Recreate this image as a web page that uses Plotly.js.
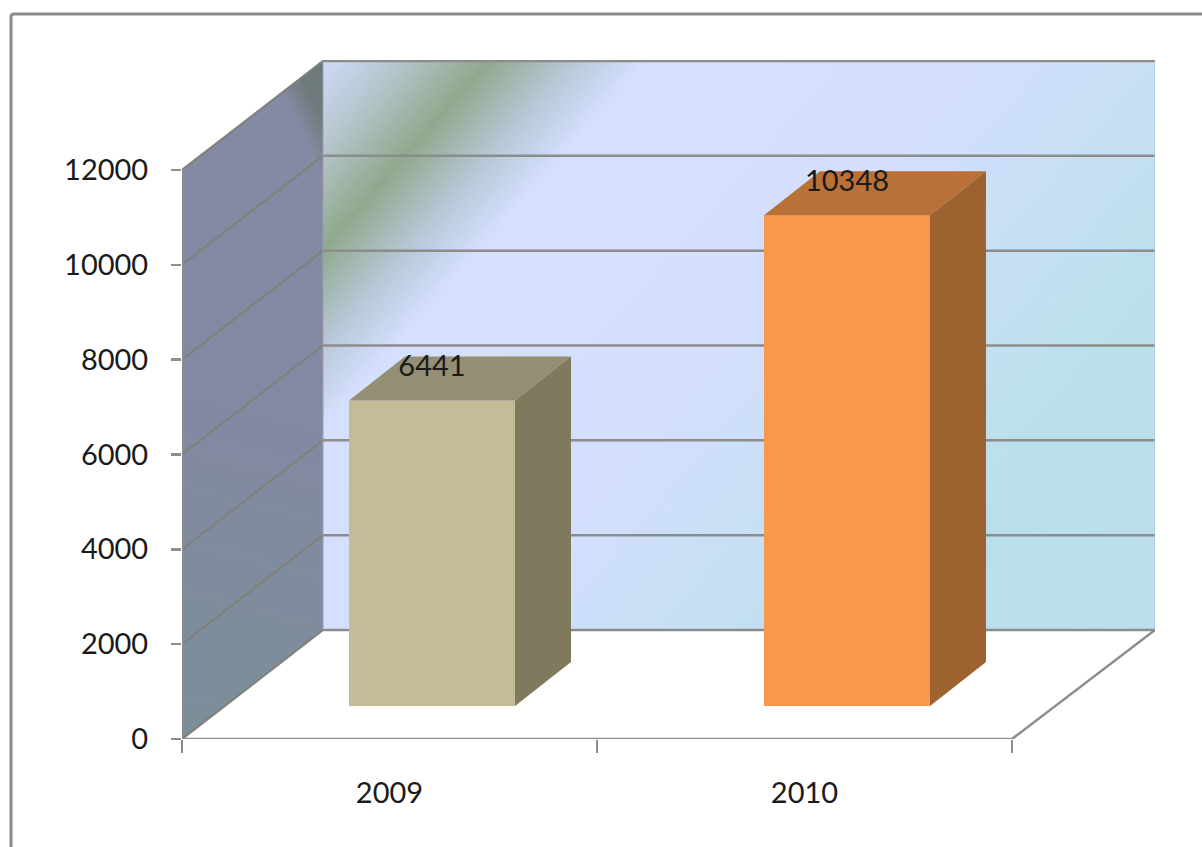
<!DOCTYPE html>
<html>
<head>
<meta charset="utf-8">
<script src="https://cdn.plot.ly/plotly-3.0.1.min.js"></script>
<style>html,body{margin:0;padding:0;background:#fff}</style>
</head>
<body>
<div id="chart" style="width:1202px;height:847px"></div>
<script>
// data
const categories = ['2009', '2010'];
const categoryPos = [0, 1];
const values = [6441, 10348];
const yTicks = [0, 2000, 4000, 6000, 8000, 10000, 12000];
const xBoundaries = [-0.5, 0.5, 1.5];
const frontColors = ['#c4bc96', '#f9974a'];
const topColors = ['#948f74', '#b97137'];
const sideColors = ['#7f7a5e', '#9c6230'];

// page geometry of the pseudo-3D box
const W = 1202, H = 847;
const L = 182, R = 1155, T = 60, B = 739;
const xUnit = 415;            // px per category
const yUnit = 569 / 12000;    // px per value unit
const wallDX = 141 / xUnit, wallDY = 109 / yUnit;
const barDX = 56 / xUnit, barDY = 44 / yUnit;
const barBase = 33 / yUnit, barOffset = -40.5 / xUnit, barWidth = 166 / xUnit;
const labelDY = 31.5 / yUnit;
const GRID = '#8c8c8c';
const WALLGRID = '#80807c';

const wallSvg = `<svg xmlns="http://www.w3.org/2000/svg" width="${R-L}" height="${B-T}" viewBox="${L} ${T} ${R-L} ${B-T}">
<defs>
<linearGradient id="b" gradientUnits="userSpaceOnUse" x1="323" y1="60" x2="1073" y2="720">
<stop offset="0" stop-color="#cfdcfb"/><stop offset="0.06" stop-color="#b5c5cc"/>
<stop offset="0.125" stop-color="#90a98d"/><stop offset="0.19" stop-color="#b8c8d8"/>
<stop offset="0.245" stop-color="#d5e0ff"/><stop offset="0.5" stop-color="#d3dffd"/>
<stop offset="0.8" stop-color="#b9e0ea"/><stop offset="1" stop-color="#bbdfeb"/>
</linearGradient>
<linearGradient id="l" gradientUnits="userSpaceOnUse" x1="182" y1="739" x2="323" y2="200">
<stop offset="0" stop-color="#7a8f98"/><stop offset="0.55" stop-color="#8389a2"/><stop offset="1" stop-color="#858aa4"/>
</linearGradient>
<linearGradient id="d" gradientUnits="userSpaceOnUse" x1="300" y1="130" x2="323" y2="118">
<stop offset="0" stop-color="#66746c" stop-opacity="0"/><stop offset="1" stop-color="#66746c" stop-opacity="0.75"/>
</linearGradient>
</defs>
<rect x="323" y="60" width="832" height="570" fill="url(#b)"/>
<polygon points="182,170 323,60 323,630 182,739" fill="url(#l)"/>
<polygon points="182,170 323,60 323,630 182,739" fill="url(#d)"/>
</svg>`;

const px = x => (x - L) / (R - L);
const py = y => (B - y) / (B - T);
const xMin = xBoundaries[0];
const xFront = xBoundaries[xBoundaries.length - 1];
const xMax = xMin + (R - L) / xUnit;
const yMax = (B - T) / yUnit;
const topTick = yTicks[yTicks.length - 1];

const lineShape = (x0, y0, x1, y1, w, color) => ({
  type: 'line', layer: 'below', x0, y0, x1, y1, xref: 'x', yref: 'y',
  line: {color: color || GRID, width: w || 2.5}
});

const shapes = [];
yTicks.forEach(v => {
  shapes.push(lineShape(xMin + wallDX, v + wallDY, xMax, v + wallDY));
  shapes.push(lineShape(xMin, v, xMin + wallDX, v + wallDY, 2.2, WALLGRID));
});
shapes.push(lineShape(xMin, 0, xMin, topTick));
shapes.push(lineShape(xMin + wallDX, wallDY, xMin + wallDX, topTick + wallDY, 1, '#9a9fb0'));
shapes.push(lineShape(xMax, wallDY, xMax, topTick + wallDY, 1, '#a9c4d8'));
shapes.push(lineShape(xMin, 0, xFront, 0));
shapes.push(lineShape(xFront, 0, xMax, wallDY));
// chart-area frame, open to the right and bottom of the page
shapes.push({
  type: 'path', layer: 'below', xref: 'paper', yref: 'paper',
  path: `M ${px(11)} ${py(847)} L ${px(11)} ${py(17)} Q ${px(11)} ${py(14)} ${px(14)} ${py(14)} L ${px(1202)} ${py(14)}`,
  line: {color: '#8b8b8b', width: 3}
});

const traces = [{
  type: 'bar', x: categoryPos, y: values, base: barBase, offset: barOffset, width: barWidth,
  marker: {color: frontColors, line: {width: 0}}, hoverinfo: 'skip', showlegend: false
}];
values.forEach((v, i) => {
  const x0 = categoryPos[i] + barOffset, x1 = x0 + barWidth, yb = barBase, yt = v + barBase;
  traces.push({
    type: 'scatter', mode: 'lines', fill: 'toself', fillcolor: topColors[i],
    x: [x0, x1, x1 + barDX, x0 + barDX, x0], y: [yt, yt, yt + barDY, yt + barDY, yt],
    line: {width: 0}, hoverinfo: 'skip', showlegend: false
  });
  traces.push({
    type: 'scatter', mode: 'lines', fill: 'toself', fillcolor: sideColors[i],
    x: [x1, x1 + barDX, x1 + barDX, x1, x1], y: [yb, yb + barDY, yt + barDY, yt, yb],
    line: {width: 0}, hoverinfo: 'skip', showlegend: false
  });
});
traces.push({
  type: 'scatter', mode: 'text',
  x: categoryPos.map(c => c + barOffset + barWidth / 2),
  y: values.map(v => v + barBase + labelDY),
  text: values.map(String), textposition: 'middle center',
  textfont: {family: 'Lato, sans-serif', size: 29, color: '#1a1a1a'},
  hoverinfo: 'skip', showlegend: false
});

const layout = {
  width: W, height: H, autosize: false, showlegend: false,
  paper_bgcolor: '#ffffff', plot_bgcolor: 'rgba(0,0,0,0)',
  margin: {l: L, r: W - R, t: T, b: H - B, pad: 0},
  font: {family: 'Lato, sans-serif', size: 29, color: '#1a1a1a'},
  xaxis: {
    range: [xMin, xMax], tickmode: 'array', tickvals: categoryPos, ticktext: categories,
    ticks: '', showgrid: false, zeroline: false, showline: false, ticklabelstandoff: 34,
    minor: {tickmode: 'array', tickvals: xBoundaries, ticks: 'outside', ticklen: 13, tickwidth: 2.5, tickcolor: GRID, showgrid: false},
    fixedrange: true
  },
  yaxis: {
    range: [0, yMax], tickmode: 'array', tickvals: yTicks, ticktext: yTicks.map(String),
    ticks: 'outside', ticklen: 10, tickwidth: 2.5, tickcolor: GRID,
    showgrid: false, zeroline: false, showline: false, ticklabelstandoff: 17, fixedrange: true
  },
  shapes,
  images: [{
    source: 'data:image/svg+xml;charset=utf-8,' + encodeURIComponent(wallSvg),
    xref: 'paper', yref: 'paper', x: 0, y: 1, sizex: 1, sizey: 1,
    xanchor: 'left', yanchor: 'top', sizing: 'stretch', layer: 'below'
  }]
};
Plotly.newPlot('chart', traces, layout, {displayModeBar: false, staticPlot: true});
</script>
</body>
</html>
